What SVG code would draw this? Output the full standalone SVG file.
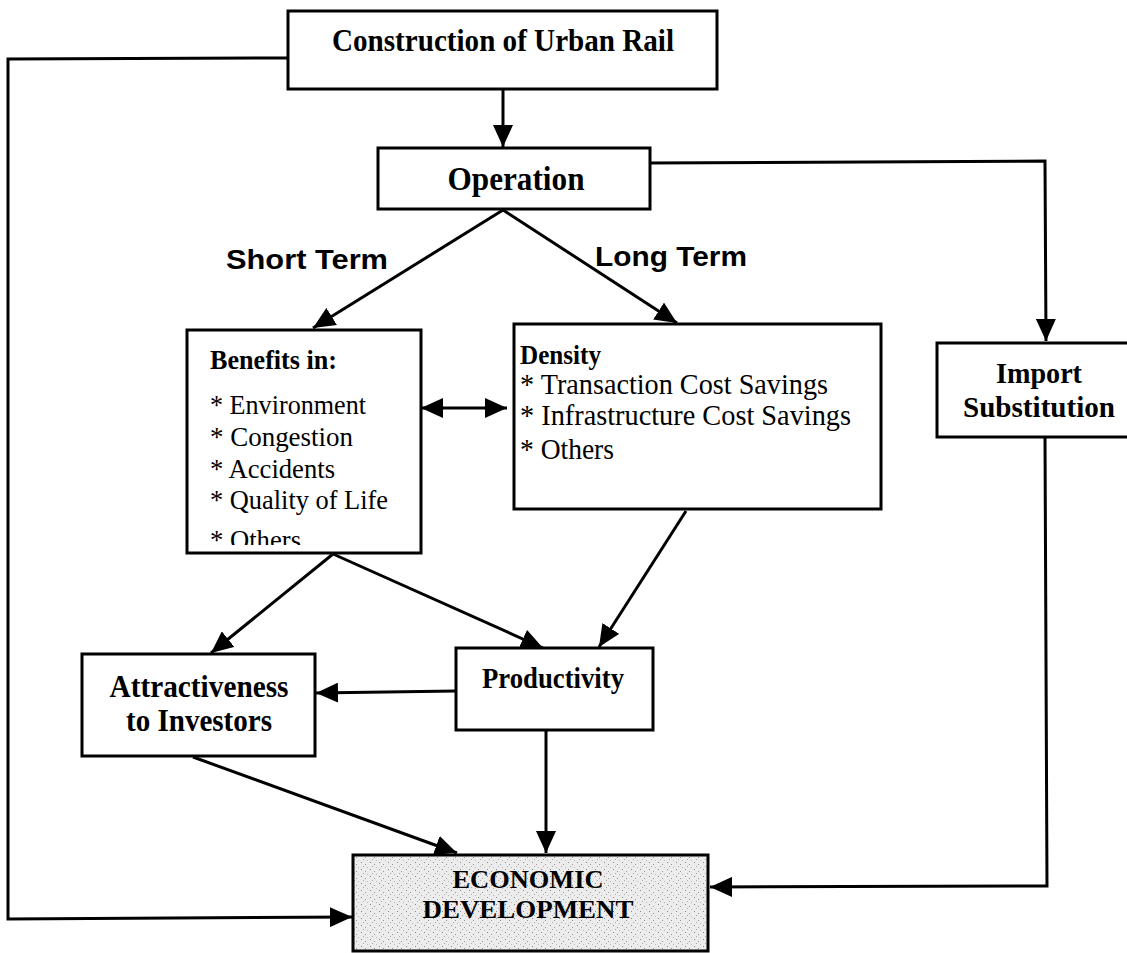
<svg xmlns="http://www.w3.org/2000/svg" width="1127" height="953" viewBox="0 0 1127 953">
<style>
.box{fill:#fff;stroke:#000;stroke-width:3}
.t{font-family:"Liberation Serif","Times New Roman",serif;fill:#000}
.b{font-weight:bold}
.lbl{font-family:"Liberation Sans",Arial,sans-serif;font-weight:bold;fill:#000}
.c{fill:none;stroke:#000;stroke-width:3}
</style>
<defs>
<marker id="ah" markerUnits="userSpaceOnUse" markerWidth="24" markerHeight="20" refX="22" refY="10" orient="auto">
<path d="M0,0 L22,10 L0,20 Z" fill="#000"/>
</marker>
<marker id="ahs" markerUnits="userSpaceOnUse" markerWidth="24" markerHeight="20" refX="0" refY="10" orient="auto">
<path d="M22,0 L0,10 L22,20 Z" fill="#000"/>
</marker>
<pattern id="stip" width="9" height="7" patternUnits="userSpaceOnUse">
<rect width="9" height="7" fill="#ececec"/>
<rect x="1" y="1" width="1" height="1" fill="#888"/>
<rect x="5" y="3" width="1" height="1" fill="#999"/>
<rect x="3" y="5" width="1" height="1" fill="#aaa"/>
<rect x="7" y="6" width="1" height="1" fill="#bbb"/>
</pattern>
<clipPath id="benclip"><rect x="186" y="330" width="235" height="215"/></clipPath>
</defs>

<g id="connectors">
<line class="c" x1="503" y1="89" x2="503" y2="147" marker-end="url(#ah)"/>
<polyline class="c" points="288,58 8,59 8,919 352,917" marker-end="url(#ah)"/>
<polyline class="c" points="650,163 1045,161 1046,341" marker-end="url(#ah)"/>
<polyline class="c" points="1045,437 1047,886 710,887" marker-end="url(#ah)"/>
<line class="c" x1="503" y1="210" x2="313" y2="328" marker-end="url(#ah)"/>
<line class="c" x1="503" y1="210" x2="677" y2="323" marker-end="url(#ah)"/>
<line class="c" x1="421" y1="408" x2="507" y2="408" marker-start="url(#ahs)" marker-end="url(#ah)"/>
<line class="c" x1="333" y1="554" x2="211" y2="653" marker-end="url(#ah)"/>
<line class="c" x1="333" y1="554" x2="543" y2="648" marker-end="url(#ah)"/>
<line class="c" x1="686" y1="511" x2="599" y2="647" marker-end="url(#ah)"/>
<line class="c" x1="456" y1="691" x2="316" y2="693" marker-end="url(#ah)"/>
<line class="c" x1="546" y1="730" x2="546" y2="853" marker-end="url(#ah)"/>
<line class="c" x1="193" y1="757" x2="457" y2="853" marker-end="url(#ah)"/>
</g>

<g id="construction">
<rect class="box" x="288" y="11" width="429" height="78"/>
<text class="t b" x="503" y="51" font-size="31" text-anchor="middle" textLength="342" lengthAdjust="spacingAndGlyphs">Construction of Urban Rail</text>
</g>

<g id="operation">
<rect class="box" x="378" y="148" width="272" height="61"/>
<text class="t b" x="516" y="190" font-size="34" text-anchor="middle" textLength="137" lengthAdjust="spacingAndGlyphs">Operation</text>
</g>

<g id="labels">
<text class="lbl" x="226" y="269" font-size="27" textLength="162" lengthAdjust="spacingAndGlyphs">Short Term</text>
<text class="lbl" x="595" y="266" font-size="27" textLength="152" lengthAdjust="spacingAndGlyphs">Long Term</text>
</g>

<g id="benefits">
<rect class="box" x="187" y="330" width="234" height="223"/>
<text class="t b" x="210" y="369" font-size="28" textLength="127" lengthAdjust="spacingAndGlyphs">Benefits in:</text>
<g clip-path="url(#benclip)">
<text class="t" x="210" y="414" font-size="28" textLength="156" lengthAdjust="spacingAndGlyphs">* Environment</text>
<text class="t" x="210" y="446" font-size="28" textLength="143" lengthAdjust="spacingAndGlyphs">* Congestion</text>
<text class="t" x="210" y="478" font-size="28" textLength="125" lengthAdjust="spacingAndGlyphs">* Accidents</text>
<text class="t" x="210" y="509" font-size="28" textLength="178" lengthAdjust="spacingAndGlyphs">* Quality of Life</text>
<text class="t" x="210" y="549" font-size="28" textLength="91" lengthAdjust="spacingAndGlyphs">* Others</text>
</g>
</g>

<g id="density">
<rect class="box" x="514" y="324" width="367" height="185"/>
<text class="t b" x="520" y="364" font-size="28" textLength="81" lengthAdjust="spacingAndGlyphs">Density</text>
<text class="t" x="520" y="394" font-size="29" textLength="308" lengthAdjust="spacingAndGlyphs">* Transaction Cost Savings</text>
<text class="t" x="520" y="425" font-size="29" textLength="331" lengthAdjust="spacingAndGlyphs">* Infrastructure Cost Savings</text>
<text class="t" x="520" y="459" font-size="29" textLength="94" lengthAdjust="spacingAndGlyphs">* Others</text>
</g>

<g id="import">
<rect class="box" x="937" y="343" width="192" height="94"/>
<text class="t b" x="1039" y="383" font-size="29" text-anchor="middle" textLength="86" lengthAdjust="spacingAndGlyphs">Import</text>
<text class="t b" x="1039" y="417" font-size="29" text-anchor="middle" textLength="152" lengthAdjust="spacingAndGlyphs">Substitution</text>
</g>

<g id="attractiveness">
<rect class="box" x="82" y="654" width="233" height="102"/>
<text class="t b" x="199" y="697" font-size="31" text-anchor="middle" textLength="179" lengthAdjust="spacingAndGlyphs">Attractiveness</text>
<text class="t b" x="199" y="731" font-size="31" text-anchor="middle" textLength="146" lengthAdjust="spacingAndGlyphs">to Investors</text>
</g>

<g id="productivity">
<rect class="box" x="456" y="648" width="197" height="82"/>
<text class="t b" x="553" y="688" font-size="29" text-anchor="middle" textLength="142" lengthAdjust="spacingAndGlyphs">Productivity</text>
</g>

<g id="economic">
<rect x="353" y="855" width="355" height="96" fill="url(#stip)" stroke="#000" stroke-width="3"/>
<text class="t b" x="528" y="888" font-size="25" text-anchor="middle" textLength="151" lengthAdjust="spacingAndGlyphs">ECONOMIC</text>
<text class="t b" x="528" y="918" font-size="25" text-anchor="middle" textLength="211" lengthAdjust="spacingAndGlyphs">DEVELOPMENT</text>
</g>
</svg>
